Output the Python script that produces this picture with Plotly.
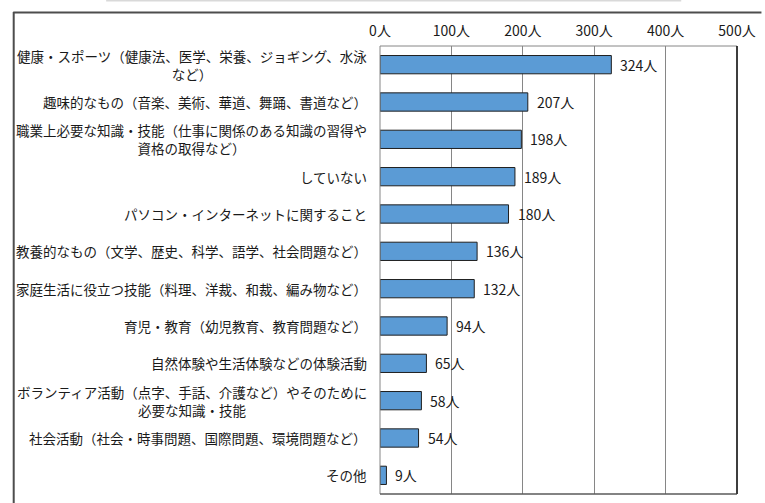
import plotly.graph_objects as go

# Learning activities and number of respondents
categories = [
    "健康・スポーツ（健康法、医学、栄養、ジョギング、水泳<br>など）",
    "趣味的なもの（音楽、美術、華道、舞踊、書道など）",
    "職業上必要な知識・技能（仕事に関係のある知識の習得や<br>資格の取得など）",
    "していない",
    "パソコン・インターネットに関すること",
    "教養的なもの（文学、歴史、科学、語学、社会問題など）",
    "家庭生活に役立つ技能（料理、洋裁、和裁、編み物など）",
    "育児・教育（幼児教育、教育問題など）",
    "自然体験や生活体験などの体験活動",
    "ボランティア活動（点字、手話、介護など）やそのために<br>必要な知識・技能",
    "社会活動（社会・時事問題、国際問題、環境問題など）",
    "その他",
]
values = [324, 207, 198, 189, 180, 136, 132, 94, 65, 58, 54, 9]
x_ticks = [0, 100, 200, 300, 400, 500]
unit = "人"

JP_FONT = "Noto Sans CJK JP"
NUM_FONT = "Liberation Sans Narrow, Noto Sans CJK JP"

W, H = 765, 503
L, R, T, B = 380, 20, 46, 9
pw, ph = W - L - R, H - T - B

ids = list(range(len(categories)))

fig = go.Figure(
    go.Bar(
        x=values,
        y=ids,
        orientation="h",
        width=0.49,
        marker=dict(color="#5B9BD5", line=dict(color="#1f1f1f", width=1)),
        hoverinfo="skip",
    )
)

annotations = []
# category labels, right-aligned block with centred lines
for i, cat in zip(ids, categories):
    annotations.append(dict(
        x=0, xref="paper", y=i, yref="y", text=cat, showarrow=False,
        xanchor="right", yanchor="middle", align="center", xshift=-11,
        font=dict(family=JP_FONT, size=13.5, color="#1a1a1a"),
    ))
# value labels next to each bar
for i, v in zip(ids, values):
    annotations.append(dict(
        x=v, xref="x", y=i, yref="y", text=f"{v}{unit}", showarrow=False,
        xanchor="left", yanchor="middle", xshift=7,
        font=dict(family=NUM_FONT, size=14, color="#1a1a1a"),
    ))

def px_x(p):
    return (p - L) / pw

def px_y(p):
    return 1 - (p - T) / ph

def seg(x0, y0, x1, y1, color, width):
    return dict(type="line", xref="paper", yref="paper",
                x0=px_x(x0), x1=px_x(x1), y0=px_y(y0), y1=px_y(y1),
                line=dict(color=color, width=width))

shapes = [
    # outer frame: top and left edges
    seg(5, 12.5, W + 5, 12.5, "#4d4d4d", 2),
    seg(5.5, 12, 5.5, H + 5, "#4d4d4d", 2),
    # light strip along the top edge
    seg(100, 0.5, 688, 0.5, "#d9d9d9", 2),
    # plot area border
    dict(type="rect", xref="paper", yref="paper", x0=0, x1=1, y0=0, y1=1,
         line=dict(color="#868686", width=1)),
    dict(type="line", xref="paper", yref="paper", x0=1, x1=1, y0=0, y1=1,
         line=dict(color="#111111", width=1.5)),
    dict(type="line", xref="paper", yref="paper", x0=0, x1=1, y0=0, y1=0,
         line=dict(color="#444444", width=1.2)),
]

fig.update_layout(
    width=W, height=H,
    margin=dict(l=L, r=R, t=T, b=B, pad=0),
    paper_bgcolor="white", plot_bgcolor="white",
    showlegend=False,
    annotations=annotations,
    shapes=shapes,
    xaxis=dict(
        side="top", range=[0, 500], tickvals=x_ticks,
        ticktext=[f"{t}{unit}" for t in x_ticks],
        showgrid=True, gridcolor="#868686", gridwidth=1,
        zeroline=False, showline=False, ticks="", ticklen=0,
        ticklabelstandoff=6,
        tickfont=dict(family=NUM_FONT, size=14, color="#1a1a1a"),
        fixedrange=True,
    ),
    yaxis=dict(
        range=[len(categories) - 0.5, -0.5],
        showticklabels=False, showgrid=False, zeroline=False,
        showline=False, ticks="", fixedrange=True,
    ),
)

fig.write_html("out.html", config={"displayModeBar": False})
